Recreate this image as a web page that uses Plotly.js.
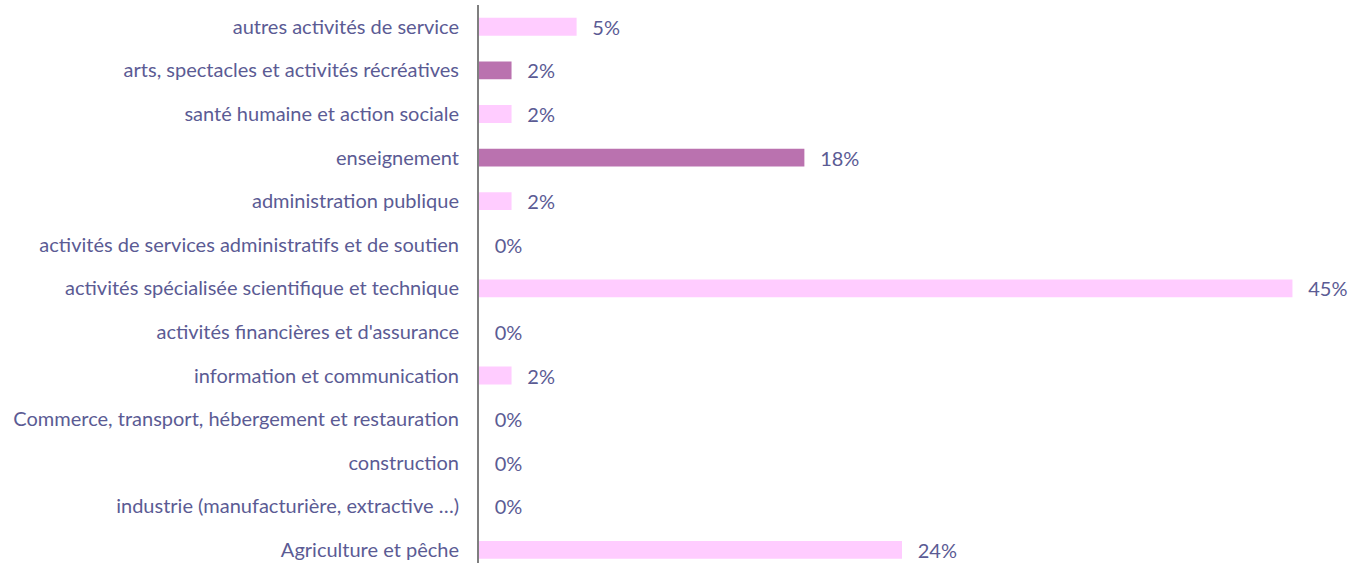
<!DOCTYPE html>
<html><head><meta charset="utf-8">
<script src="https://cdn.plot.ly/plotly-3.0.1.min.js"></script>
<style>html,body{margin:0;padding:0;background:#fff}#c{width:1366px;height:563px}</style>
</head><body><div id="c"></div>
<script>
// categories bottom -> top
const categories = [
  "Agriculture et pêche",
  "industrie (manufacturière, extractive …)",
  "construction",
  "Commerce, transport, hébergement et restauration",
  "information et communication",
  "activités financières et d'assurance",
  "activités spécialisée scientifique et technique",
  "activités de services administratifs et de soutien",
  "administration publique",
  "enseignement",
  "santé humaine et action sociale",
  "arts, spectacles et activités récréatives",
  "autres activités de service"
];
const counts = [13, 0, 0, 0, 1, 0, 25, 0, 1, 10, 1, 1, 3];
const total = 55;
const shares = counts.map(c => c / total * 100);
const highlighted = ["enseignement", "arts, spectacles et activités récréatives"];

const positions = categories.map((_, i) => i);
const colors = categories.map(c => highlighted.includes(c) ? "#BA72AF" : "#FFCCFF");
const labels = shares.map(v => "  \u2009" + Math.round(v) + "%");

Plotly.newPlot("c", [{
  type: "bar",
  orientation: "h",
  y: positions,
  x: shares,
  marker: {color: colors, line: {width: 0}},
  text: labels,
  textposition: "outside",
  constraintext: "none",
  cliponaxis: false,
  textfont: {family: "Lato, 'Open Sans', sans-serif", size: 20, color: "#5B5B94"},
  hoverinfo: "skip",
  width: 0.41
}], {
  width: 1366, height: 563,
  margin: {l: 479, r: 28, t: 5, b: 0},
  paper_bgcolor: "#fff", plot_bgcolor: "#fff",
  showlegend: false,
  xaxis: {range: [0, 48], showgrid: false, zeroline: false, showticklabels: false, showline: false, ticks: ""},
  yaxis: {
    range: [-0.30, 12.5],
    tickmode: "array", tickvals: positions, ticktext: categories,
    showgrid: false, zeroline: false, showline: true, linecolor: "#7F7F7F", linewidth: 2,
    ticks: "", ticklabelstandoff: 14,
    tickfont: {family: "Lato, 'Open Sans', sans-serif", size: 20, color: "#5B5B94"}
  }
}, {staticPlot: true, displayModeBar: false});
</script></body></html>
